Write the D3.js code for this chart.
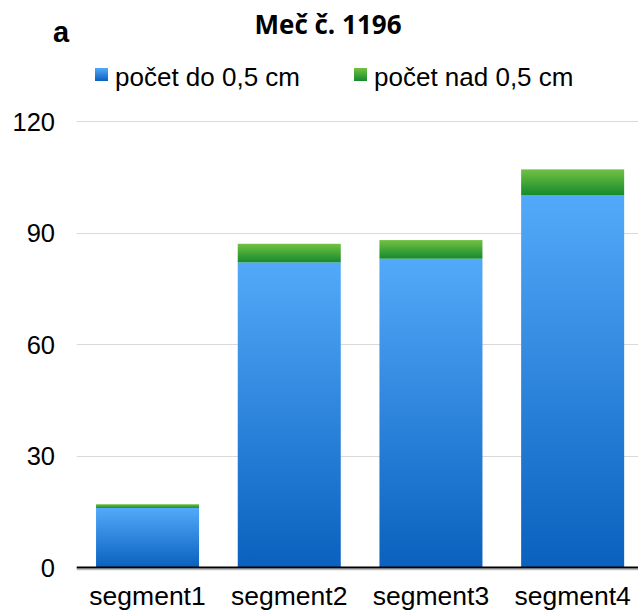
<!DOCTYPE html>
<html>
<head>
<meta charset="utf-8">
<script src="https://cdn.jsdelivr.net/npm/d3@7"></script>
<style>
  html, body { margin: 0; padding: 0; background: #fff; }
  svg { display: block; }
</style>
</head>
<body>
<svg id="chart" width="638" height="615"></svg>
<script>
// Counts per sword segment
const categories = ["segment1", "segment2", "segment3", "segment4"];
const seriesNames = ["počet do 0,5 cm", "počet nad 0,5 cm"];
const countSmall = [16, 82, 83, 100];
const countLarge = [1, 5, 5, 7];
const yTicks = [0, 30, 60, 90, 120];

const svg = d3.select("#chart");
const font = "'Liberation Sans', Arial, sans-serif";

// Vertical gradients, one per series
const defs = svg.append("defs");
const gradStops = [
  { id: "gBlue", top: "#53a9f9", bottom: "#0a61be" },
  { id: "gGreen", top: "#73c143", bottom: "#148a2c" }
];
gradStops.forEach(g => {
  const lg = defs.append("linearGradient").attr("id", g.id)
    .attr("x1", 0).attr("y1", 0).attr("x2", 0).attr("y2", 1);
  lg.append("stop").attr("offset", "0%").attr("stop-color", g.top);
  lg.append("stop").attr("offset", "100%").attr("stop-color", g.bottom);
});
const fills = ["url(#gBlue)", "url(#gGreen)"];

const left = 76.7, step = 141.7;
const x = d3.scaleBand().domain(categories)
  .range([left, left + step * categories.length])
  .paddingInner(0.273).paddingOuter(0.1365);
const y = d3.scaleLinear().domain([0, 120]).range([567.5, 121]);

// Gridlines
svg.append("g").selectAll("line").data(yTicks.filter(t => t > 0)).join("line")
  .attr("x1", left).attr("x2", 638)
  .attr("y1", d => Math.round(y(d)) + 0.5).attr("y2", d => Math.round(y(d)) + 0.5)
  .attr("stroke", "#d9d9d9").attr("stroke-width", 1);

// Y tick labels
svg.append("g").selectAll("text").data(yTicks).join("text")
  .attr("x", 55).attr("y", d => y(d) + 9.5)
  .attr("text-anchor", "end")
  .attr("font-family", font).attr("font-size", 25.5).attr("fill", "#000")
  .text(d => d);

// Stacked bars
const rows = categories.map((c, i) => ({ cat: c, small: countSmall[i], large: countLarge[i] }));
const stack = d3.stack().keys(["small", "large"])(rows);
svg.append("g").selectAll("g").data(stack).join("g")
  .attr("fill", (d, i) => fills[i])
  .selectAll("rect").data(d => d).join("rect")
  .attr("x", d => x(d.data.cat))
  .attr("width", x.bandwidth())
  .attr("y", d => y(d[1]))
  .attr("height", d => y(d[0]) - y(d[1]));

// Baseline with a soft shadow
svg.append("line").attr("x1", left).attr("x2", 638)
  .attr("y1", y(0) + 2).attr("y2", y(0) + 2)
  .attr("stroke", "#bbbbbb").attr("stroke-width", 1.5);
svg.append("line").attr("x1", left).attr("x2", 638)
  .attr("y1", y(0)).attr("y2", y(0))
  .attr("stroke", "#000").attr("stroke-width", 2.2);

// Category labels
svg.append("g").selectAll("text").data(categories).join("text")
  .attr("x", d => x(d) + x.bandwidth() / 2).attr("y", 605)
  .attr("text-anchor", "middle")
  .attr("font-family", font).attr("font-size", 26.5).attr("fill", "#000")
  .text(d => d);

// Title and panel letter
svg.append("text").attr("x", 328).attr("y", 34)
  .attr("text-anchor", "middle")
  .attr("font-family", "'Open Sans', 'Liberation Sans', sans-serif")
  .attr("font-weight", "bold").attr("font-size", 26).attr("fill", "#000")
  .text("Meč č. 1196");
svg.append("text").attr("x", 53).attr("y", 42)
  .attr("font-family", font).attr("font-weight", "bold")
  .attr("font-size", 29).attr("fill", "#000")
  .text("a");

// Legend
const legendX = [95, 354];
const lg = svg.append("g").selectAll("g").data(seriesNames).join("g")
  .attr("transform", (d, i) => `translate(${legendX[i]},68)`);
lg.append("rect").attr("width", 13).attr("height", 13)
  .attr("fill", (d, i) => fills[i]);
lg.append("text").attr("x", 20).attr("y", 18)
  .attr("font-family", font).attr("font-size", 26).attr("fill", "#000")
  .text(d => d);
</script>
</body>
</html>
